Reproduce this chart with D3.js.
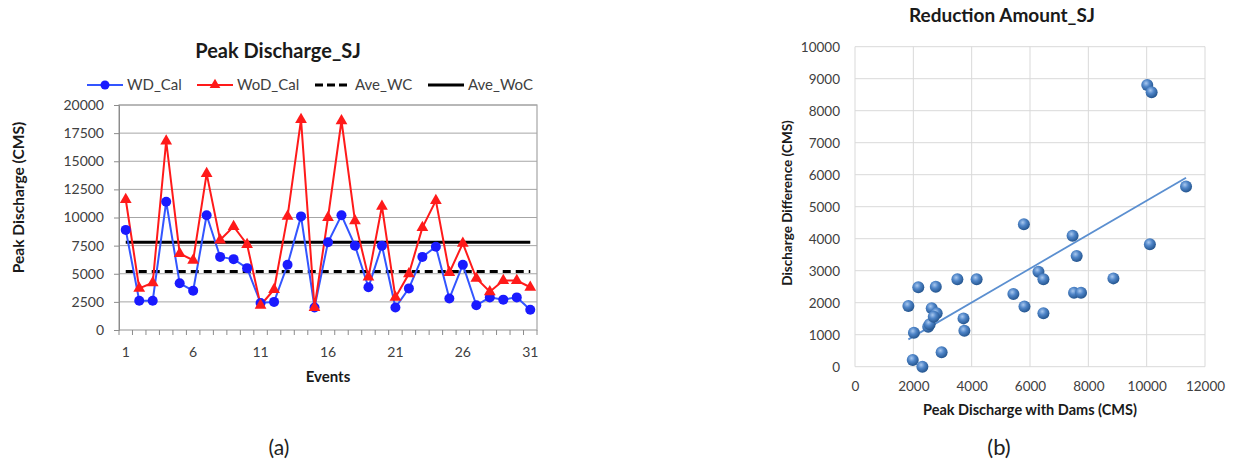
<!DOCTYPE html>
<html>
<head>
<meta charset="utf-8">
<script src="https://cdn.jsdelivr.net/npm/d3@7"></script>
<style>
  body { margin: 0; background: #fff; }
  svg text { font-family: Lato, "Open Sans", sans-serif; }
</style>
</head>
<body>
<svg id="chart" width="1236" height="472"></svg>
<script>
// ---- panel (a) data ----
const events = d3.range(1, 32);
const wdCal = [8900, 2600, 2600, 11400, 4150, 3500, 10200, 6500, 6300, 5500,
               2400, 2500, 5800, 10100, 2000, 7800, 10200, 7500, 3800, 7500,
               2000, 3700, 6500, 7400, 2800, 5800, 2200, 2900, 2700, 2900, 1800];
const wodCal = [11600, 3700, 4200, 16800, 6800, 6200, 13900, 8000, 9200, 7600,
                2200, 3600, 10100, 18700, 2000, 10000, 18600, 9700, 4700, 11000,
                2900, 5000, 9100, 11500, 5100, 7700, 4600, 3400, 4400, 4400, 3800];
const aveWC = 5200;
const aveWoC = 7800;
const yTicksA = [0, 2500, 5000, 7500, 10000, 12500, 15000, 17500, 20000];
const xLabelsA = [1, 6, 11, 16, 21, 26, 31];

// ---- panel (b) data ----
const withDams = [10020, 10170, 11350, 5790, 7460, 7600, 10110, 6290, 6460, 8860,
                  5430, 5810, 6460, 7510, 7750, 1830, 2170, 2770, 3510, 4170,
                  2630, 2800, 2510, 2560, 2020, 3720, 3750, 2970, 1980, 2310, 2700];
const difference = [8800, 8580, 5630, 4450, 4090, 3460, 3830, 2970, 2730, 2760,
                    2270, 1880, 1670, 2310, 2310, 1900, 2480, 2500, 2730, 2730,
                    1830, 1670, 1250, 1330, 1060, 1510, 1120, 450, 210, 0, 1560];
const xTicksB = [0, 2000, 4000, 6000, 8000, 10000, 12000];
const yTicksB = [0, 1000, 2000, 3000, 4000, 5000, 6000, 7000, 8000, 9000, 10000];

const svg = d3.select("#chart");
const axisColor = "#404040";
const fmt = d3.format("d");

// ================= panel (a) =================
const A = { left: 119, right: 537, top: 105, bottom: 330 };

const xA = d3.scaleBand().domain(events).range([A.left, A.right]);
const yA = d3.scaleLinear().domain([0, 20000]).range([A.bottom, A.top]);
const cx = d => xA(d) + xA.bandwidth() / 2;

const gA = svg.append("g");

// gridlines
gA.append("g")
  .selectAll("line")
  .data(yTicksA.slice(1))
  .join("line")
    .attr("x1", A.left).attr("x2", A.right)
    .attr("y1", d => yA(d)).attr("y2", d => yA(d))
    .attr("stroke", "#a6a6a6").attr("stroke-width", 1);

// plot border
gA.append("rect")
  .attr("x", A.left).attr("y", A.top)
  .attr("width", A.right - A.left).attr("height", A.bottom - A.top)
  .attr("fill", "none").attr("stroke", "#a6a6a6").attr("stroke-width", 1.2);

// y axis
const yAxisA = gA.append("g")
  .attr("transform", `translate(${A.left},0)`)
  .call(d3.axisLeft(yA).tickValues(yTicksA).tickFormat(fmt).tickSize(5).tickPadding(10));
yAxisA.select(".domain").attr("stroke", "#8c8c8c");
yAxisA.selectAll(".tick line").attr("stroke", "#8c8c8c");
yAxisA.selectAll("text").attr("fill", axisColor).style("font-size", "14px");

// x axis: ticks on category boundaries
gA.append("g")
  .selectAll("line")
  .data(d3.range(0, 32))
  .join("line")
    .attr("x1", i => A.left + i * xA.step()).attr("x2", i => A.left + i * xA.step())
    .attr("y1", A.bottom).attr("y2", A.bottom + 5)
    .attr("stroke", "#8c8c8c");
gA.append("g")
  .selectAll("text")
  .data(xLabelsA)
  .join("text")
    .attr("x", d => cx(d)).attr("y", A.bottom + 27)
    .attr("text-anchor", "middle")
    .attr("fill", axisColor).style("font-size", "14px")
    .text(d => d);

// average lines
gA.append("line")
  .attr("x1", cx(1)).attr("x2", cx(31))
  .attr("y1", yA(aveWC)).attr("y2", yA(aveWC))
  .attr("stroke", "#000").attr("stroke-width", 3).attr("stroke-dasharray", "8,5");
gA.append("line")
  .attr("x1", cx(1)).attr("x2", cx(31))
  .attr("y1", yA(aveWoC)).attr("y2", yA(aveWoC))
  .attr("stroke", "#000").attr("stroke-width", 3);

const line = d3.line().x((d, i) => cx(events[i])).y(d => yA(d));
const blue = "#3355ff", blueDot = "#1a1aff", red = "#ff1a1a";

gA.append("path").datum(wdCal)
  .attr("d", line).attr("fill", "none").attr("stroke", blue).attr("stroke-width", 2);
gA.append("path").datum(wodCal)
  .attr("d", line).attr("fill", "none").attr("stroke", red).attr("stroke-width", 2);

const tri = d3.symbol().type(d3.symbolTriangle).size(60);

gA.append("g").selectAll("circle")
  .data(wdCal)
  .join("circle")
    .attr("cx", (d, i) => cx(events[i])).attr("cy", d => yA(d))
    .attr("r", 5).attr("fill", blueDot);
gA.append("g").selectAll("path")
  .data(wodCal)
  .join("path")
    .attr("d", tri)
    .attr("transform", (d, i) => `translate(${cx(events[i])},${yA(d)})`)
    .attr("fill", red);

// title / labels
gA.append("text")
  .attr("x", 278).attr("y", 58).attr("text-anchor", "middle")
  .style("font-size", "20px").style("font-weight", "bold").attr("fill", "#1a1a1a")
  .text("Peak Discharge_SJ");

gA.append("text")
  .attr("transform", `translate(24,${(A.top + A.bottom) / 2 - 20}) rotate(-90)`)
  .attr("text-anchor", "middle")
  .style("font-size", "15.5px").style("font-weight", "bold").attr("fill", "#1a1a1a")
  .text("Peak Discharge (CMS)");

gA.append("text")
  .attr("x", 328).attr("y", 382).attr("text-anchor", "middle")
  .style("font-size", "15px").style("font-weight", "bold").attr("fill", "#1a1a1a")
  .text("Events");

svg.append("text")
  .attr("x", 279).attr("y", 455).attr("text-anchor", "middle")
  .style("font-size", "21px").attr("fill", "#222")
  .text("(a)");

// legend
const legendItems = [
  { name: "WD_Cal", x: 87, color: blue, dash: null, w: 2, mark: "circle" },
  { name: "WoD_Cal", x: 197, color: red, dash: null, w: 2, mark: "tri" },
  { name: "Ave_WC", x: 315, color: "#000", dash: "8,4", w: 3, mark: null },
  { name: "Ave_WoC", x: 428, color: "#000", dash: null, w: 3, mark: null }
];
const leg = gA.append("g").attr("transform", "translate(0,85)")
  .selectAll("g").data(legendItems).join("g")
    .attr("transform", d => `translate(${d.x},0)`);
leg.append("line")
  .attr("x1", 0).attr("x2", 36)
  .attr("stroke", d => d.color).attr("stroke-width", d => d.w)
  .attr("stroke-dasharray", d => d.dash);
leg.filter(d => d.mark === "circle").append("circle")
  .attr("cx", 18).attr("r", 4.5).attr("fill", blueDot);
leg.filter(d => d.mark === "tri").append("path")
  .attr("d", d3.symbol().type(d3.symbolTriangle).size(50))
  .attr("transform", "translate(18,0)").attr("fill", red);
leg.append("text")
  .attr("x", 40).attr("dy", "0.35em")
  .style("font-size", "15px").attr("fill", axisColor)
  .text(d => d.name);

// ================= panel (b) =================
const B = { left: 855, right: 1205, top: 46.7, bottom: 366.7 };
const xB = d3.scaleLinear().domain([0, 12000]).range([B.left, B.right]);
const yB = d3.scaleLinear().domain([0, 10000]).range([B.bottom, B.top]);
const gridB = "#d9d9d9";
const gB = svg.append("g");

gB.append("g").selectAll("line")
  .data(yTicksB)
  .join("line")
    .attr("x1", B.left).attr("x2", B.right)
    .attr("y1", d => yB(d)).attr("y2", d => yB(d))
    .attr("stroke", gridB);
gB.append("g").selectAll("line")
  .data(xTicksB)
  .join("line")
    .attr("x1", d => xB(d)).attr("x2", d => xB(d))
    .attr("y1", B.top).attr("y2", B.bottom)
    .attr("stroke", gridB);

const yAxisB = gB.append("g")
  .attr("transform", `translate(${B.left},0)`)
  .call(d3.axisLeft(yB).tickValues(yTicksB).tickFormat(fmt).tickSize(0).tickPadding(15));
yAxisB.select(".domain").remove();
yAxisB.selectAll("text").attr("fill", axisColor).style("font-size", "13.5px");

const xAxisB = gB.append("g")
  .attr("transform", `translate(0,${B.bottom})`)
  .call(d3.axisBottom(xB).tickValues(xTicksB).tickFormat(fmt).tickSize(0).tickPadding(15));
xAxisB.select(".domain").remove();
xAxisB.selectAll("text").attr("fill", axisColor).style("font-size", "13.5px");

// linear trendline (least squares)
const pts = withDams.map((x, i) => [x, difference[i]]);
const mx = d3.mean(withDams), my = d3.mean(difference);
const slope = d3.sum(pts, p => (p[0] - mx) * (p[1] - my)) / d3.sum(pts, p => (p[0] - mx) ** 2);
const icpt = my - slope * mx;
const [x0, x1] = d3.extent(withDams);
gB.append("line")
  .attr("x1", xB(x0)).attr("y1", yB(icpt + slope * x0))
  .attr("x2", xB(x1)).attr("y2", yB(icpt + slope * x1))
  .attr("stroke", "#5b8fd0").attr("stroke-width", 1.8);

// sphere markers
const defs = svg.append("defs");
const grad = defs.append("radialGradient").attr("id", "sphere")
  .attr("cx", "40%").attr("cy", "35%").attr("r", "65%");
grad.append("stop").attr("offset", "0%").attr("stop-color", "#a9c8ef");
grad.append("stop").attr("offset", "45%").attr("stop-color", "#4f85c8");
grad.append("stop").attr("offset", "100%").attr("stop-color", "#24558f");

gB.append("g").selectAll("circle")
  .data(pts)
  .join("circle")
    .attr("cx", d => xB(d[0])).attr("cy", d => yB(d[1]))
    .attr("r", 6).attr("fill", "url(#sphere)");

gB.append("text")
  .attr("x", 1002).attr("y", 22).attr("text-anchor", "middle")
  .style("font-size", "19px").style("font-weight", "bold").attr("fill", "#1a1a1a")
  .text("Reduction  Amount_SJ");

gB.append("text")
  .attr("transform", `translate(792,203) rotate(-90)`)
  .attr("text-anchor", "middle")
  .style("font-size", "13.5px").style("font-weight", "bold").attr("fill", "#1a1a1a")
  .text("Discharge Difference (CMS)");

gB.append("text")
  .attr("x", 1030).attr("y", 415).attr("text-anchor", "middle")
  .style("font-size", "14.5px").style("font-weight", "bold").attr("fill", "#1a1a1a")
  .text("Peak Discharge with Dams (CMS)");

svg.append("text")
  .attr("x", 999).attr("y", 455).attr("text-anchor", "middle")
  .style("font-size", "22px").attr("fill", "#222")
  .text("(b)");
</script>
</body>
</html>
